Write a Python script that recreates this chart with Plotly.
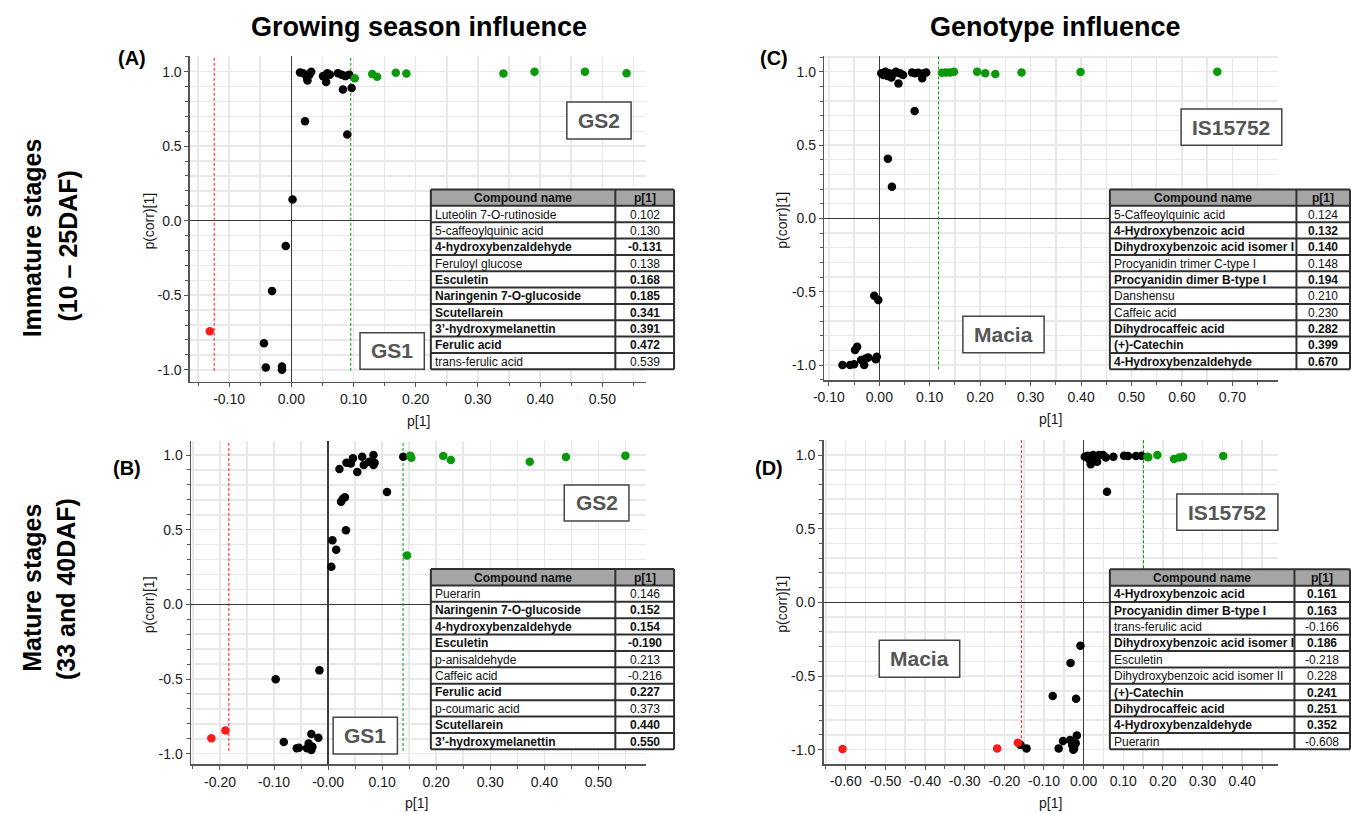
import plotly.graph_objects as go

W, H = 1351, 813
FONT = "Liberation Sans, Arial, sans-serif"
GRID = "#e8e8e8"
AXC = "#555555"
GREEN = "#0a990a"
RED = "#ff1a1a"

# ---------------- data ----------------
# Panel A (growing season, immature)
a_blk_x = [0.014, 0.019, 0.025, 0.026, 0.029, 0.032, 0.051, 0.056, 0.058, 0.062, 0.075, 0.081, 0.087,
           0.093, 0.083, 0.097, 0.022, 0.090, 0.002, -0.009, -0.031, -0.044, -0.041, -0.015, -0.015]
a_blk_y = [0.995, 0.99, 0.96, 0.94, 0.98, 1.0, 0.97, 0.93, 0.99, 0.98, 0.99, 0.98, 0.97,
           0.98, 0.88, 0.89, 0.667, 0.578, 0.142, -0.169, -0.472, -0.822, -0.984, -0.978, -1.0]
a_grn_x = [0.102, 0.130, 0.138, 0.168, 0.185, 0.341, 0.391, 0.472, 0.539]
a_grn_y = [0.955, 0.984, 0.966, 0.993, 0.987, 0.987, 1.0, 1.0, 0.989]
a_red_x = [-0.131]
a_red_y = [-0.742]
a_thr = [-0.124, 0.0956]
a_names = ["Luteolin 7-O-rutinoside", "5-caffeoylquinic acid", "4-hydroxybenzaldehyde", "Feruloyl glucose",
           "Esculetin", "Naringenin 7-O-glucoside", "Scutellarein", "3’-hydroxymelanettin", "Ferulic acid",
           "trans-ferulic acid"]
a_vals = [0.102, 0.130, -0.131, 0.138, 0.168, 0.185, 0.341, 0.391, 0.472, 0.539]
a_bold = [0, 0, 1, 0, 1, 1, 1, 1, 1, 0]

# Panel B (growing season, mature)
b_blk_x = [0.021, 0.034, 0.042, 0.046, 0.054, 0.063, 0.066, 0.076, 0.084, 0.084, 0.086, 0.139, 0.109,
           0.024, 0.027, 0.031, 0.033, 0.008, 0.015, 0.006, -0.016, -0.097, -0.082, -0.058, -0.054,
           -0.039, -0.036, -0.031, -0.031, -0.029, -0.018]
b_blk_y = [0.906, 0.949, 0.944, 0.978, 0.886, 0.989, 0.933, 0.955, 1.0, 0.933, 0.949, 0.989, 0.752,
           0.688, 0.705, 0.717, 0.496, 0.429, 0.366, 0.252, -0.442, -0.502, -0.922, -0.964, -0.960,
           -0.964, -0.931, -0.868, -0.975, -0.953, -0.893]
b_grn_x = [0.146, 0.152, 0.154, 0.213, 0.227, 0.373, 0.440, 0.550]
b_grn_y = [0.328, 0.996, 0.982, 0.993, 0.967, 0.955, 0.987, 0.996]
b_red_x = [-0.216, -0.190]
b_red_y = [-0.897, -0.844]
b_thr = [-0.1836, 0.1387]
b_names = ["Puerarin", "Naringenin 7-O-glucoside", "4-hydroxybenzaldehyde", "Esculetin", "p-anisaldehyde",
           "Caffeic acid", "Ferulic acid", "p-coumaric acid", "Scutellarein", "3’-hydroxymelanettin"]
b_vals = [0.146, 0.152, 0.154, -0.190, 0.213, -0.216, 0.227, 0.373, 0.440, 0.550]
b_bold = [0, 1, 1, 1, 0, 0, 1, 0, 1, 1]

# Panel C (genotype, immature)
c_blk_x = [0.004, 0.008, 0.012, 0.016, 0.019, 0.024, 0.029, 0.033, 0.038, 0.041, 0.047, 0.065, 0.071,
           0.077, 0.085, 0.088, 0.093, 0.070, 0.017, 0.025, -0.010, -0.002, -0.073, -0.058, -0.050,
           -0.048, -0.044, -0.036, -0.030, -0.027, -0.022, -0.007, -0.005]
c_blk_y = [0.989, 0.977, 1.0, 0.970, 0.989, 0.961, 0.989, 1.0, 0.920, 0.989, 0.977, 0.995, 0.989,
           0.993, 0.955, 0.989, 0.995, 0.732, 0.407, 0.216, -0.527, -0.557, -1.0, -1.0, -0.995,
           -0.898, -0.875, -0.966, -1.0, -0.955, -0.948, -0.961, -0.943]
c_grn_x = [0.124, 0.132, 0.140, 0.148, 0.194, 0.210, 0.230, 0.282, 0.399, 0.670]
c_grn_y = [0.993, 0.995, 0.995, 1.0, 1.0, 0.989, 0.984, 0.995, 0.998, 1.0]
c_red_x = []
c_red_y = []
c_thr = [None, 0.1173]
c_names = ["5-Caffeoylquinic acid", "4-Hydroxybenzoic acid", "Dihydroxybenzoic acid isomer I",
           "Procyanidin trimer C-type I", "Procyanidin dimer B-type I", "Danshensu", "Caffeic acid",
           "Dihydrocaffeic acid", "(+)-Catechin", "4-Hydroxybenzaldehyde"]
c_vals = [0.124, 0.132, 0.140, 0.148, 0.194, 0.210, 0.230, 0.282, 0.399, 0.670]
c_bold = [0, 1, 1, 0, 1, 0, 0, 1, 1, 1]

# Panel D (genotype, mature)
d_blk_x = [0.003, 0.010, 0.015, 0.018, 0.024, 0.029, 0.034, 0.039, 0.049, 0.056, 0.075, 0.102, 0.112,
           0.132, 0.146, 0.059, -0.008, -0.033, -0.078, -0.019, -0.017, -0.052, -0.063, -0.034,
           -0.029, -0.024, -0.020, -0.026, -0.159, -0.144]
d_blk_y = [0.989, 0.995, 0.966, 0.937, 1.0, 0.977, 0.955, 1.0, 1.0, 0.984, 0.989, 0.995, 0.993,
           0.993, 0.995, 0.751, -0.294, -0.412, -0.636, -0.654, -0.903, -0.941, -0.991, -0.934,
           -0.968, -0.991, -0.957, -1.0, -0.968, -0.991]
d_grn_x = [0.161, 0.163, 0.186, 0.228, 0.241, 0.251, 0.352]
d_grn_y = [0.989, 0.985, 1.0, 0.973, 0.984, 0.989, 0.993]
d_red_x = [-0.608, -0.218, -0.166]
d_red_y = [-0.995, -0.991, -0.952]
d_thr = [-0.157, 0.151]
d_names = ["4-Hydroxybenzoic acid", "Procyanidin dimer B-type I", "trans-ferulic acid",
           "Dihydroxybenzoic acid isomer I", "Esculetin", "Dihydroxybenzoic acid isomer II", "(+)-Catechin",
           "Dihydrocaffeic acid", "4-Hydroxybenzaldehyde", "Puerarin"]
d_vals = [0.161, 0.163, -0.166, 0.186, -0.218, 0.228, 0.241, 0.251, 0.352, -0.608]
d_bold = [1, 1, 0, 1, 0, 0, 1, 1, 1, 0]

# tick labels
a_xticks = [-0.10, 0.00, 0.10, 0.20, 0.30, 0.40, 0.50]
a_xlabels = ["-0.10", "0.00", "0.10", "0.20", "0.30", "0.40", "0.50"]
b_xticks = [-0.20, -0.10, 0.00, 0.10, 0.20, 0.30, 0.40, 0.50]
b_xlabels = ["-0.20", "-0.10", "-0.00", "0.10", "0.20", "0.30", "0.40", "0.50"]
c_xticks = [-0.10, 0.00, 0.10, 0.20, 0.30, 0.40, 0.50, 0.60, 0.70]
c_xlabels = ["-0.10", "0.00", "0.10", "0.20", "0.30", "0.40", "0.50", "0.60", "0.70"]
d_xticks = [-0.60, -0.50, -0.40, -0.30, -0.20, -0.10, 0.00, 0.10, 0.20, 0.30, 0.40]
d_xlabels = ["-0.60", "-0.50", "-0.40", "-0.30", "-0.20", "-0.10", "0.00", "0.10", "0.20", "0.30", "0.40"]
yticks = [-1.0, -0.5, 0.0, 0.5, 1.0]
ylabels = ["-1.0", "-0.5", "0.0", "0.5", "1.0"]


def PX(x):
    return x / W


def PY(y):
    return 1 - y / H


def note(text, x, y, size, color="#111", xanchor="center", angle=0):
    return dict(text=text, x=PX(x), y=PY(y), xref="paper", yref="paper", showarrow=False,
                xanchor=xanchor, yanchor="middle", textangle=angle,
                font=dict(family=FONT, size=size, color=color))


fig = go.Figure()
shapes = []
annots = []

panels = [
    dict(k="", blk=(a_blk_x, a_blk_y), grn=(a_grn_x, a_grn_y), red=(a_red_x, a_red_y), thr=a_thr,
         thr_bot=[-1.007, -1.007], xr=[-0.163, 0.571], yr=[-1.08, 1.105], xd=(180.4, 640.7), yd=(56, 381.7),
         xt=a_xticks, xl=a_xlabels, ttl=(138.9, 410.4),
         tab=(423.3, 609.3, 668.5, 189.5, 369.3, a_names, a_vals, a_bold),
         boxes=[("GS2", 560.4, 625.2, 102, 139), ("GS1", 351.9, 416.7, 332.7, 369.3)]),
    dict(k="2", blk=(b_blk_x, b_blk_y), grn=(b_grn_x, b_grn_y), red=(b_red_x, b_red_y), thr=b_thr,
         thr_bot=[-0.982, -0.982], xr=[-0.2536, 0.589], yr=[-1.071, 1.096], xd=(181.5, 640.7), yd=(440.7, 764.3),
         xt=b_xticks, xl=b_xlabels, ttl=(138.9, 409),
         tab=(423.3, 609.3, 668.5, 569, 749.3, b_names, b_vals, b_bold),
         boxes=[("GS2", 557.8, 623.0, 485, 521), ("GS1", 324.8, 389.6, 717.3, 754)]),
    dict(k="3", blk=(c_blk_x, c_blk_y), grn=(c_grn_x, c_grn_y), red=(c_red_x, c_red_y), thr=c_thr,
         thr_bot=[-1.03, -1.03], xr=[-0.109, 0.791], yr=[-1.102, 1.107], xd=(820.0, 1277.7), yd=(56, 380),
         xt=c_xticks, xl=c_xlabels, ttl=(777, 1048),
         tab=(1107.9, 1296.0, 1350, 189.5, 369.3, c_names, c_vals, c_bold),
         boxes=[("IS15752", 1179.7, 1281.2, 109, 145.3), ("Macia", 959.7, 1041.6, 316.3, 352.7)]),
    dict(k="4", blk=(d_blk_x, d_blk_y), grn=(d_grn_x, d_grn_y), red=(d_red_x, d_red_y), thr=d_thr,
         thr_bot=[-0.99, -0.99], xr=[-0.656, 0.491], yr=[-1.097, 1.102], xd=(819.2, 1277.7), yd=(440, 764),
         xt=d_xticks, xl=d_xlabels, ttl=(777, 1048),
         tab=(1107.9, 1294.0, 1350, 569.3, 749.3, d_names, d_vals, d_bold),
         boxes=[("IS15752", 1175.4, 1277.3, 494, 530.3), ("Macia", 875.4, 956.5, 640.3, 677.3)]),
]

layout_axes = {}
for p in panels:
    k = p["k"]
    xa, ya = "x" + k, "y" + k
    for (xs, ys), col in [(p["blk"], "#000000"), (p["grn"], GREEN), (p["red"], RED)]:
        if len(xs):
            fig.add_trace(go.Scatter(x=xs, y=ys, mode="markers", xaxis=xa, yaxis=ya,
                                     marker=dict(color=col, size=8.5, line=dict(width=0)),
                                     showlegend=False, hoverinfo="skip"))
    common = dict(showgrid=True, gridcolor=GRID, gridwidth=1.5,
                  ticks="outside", ticklen=4, tickcolor=AXC, showline=True, linecolor=AXC, linewidth=1.5,
                  zeroline=True, zerolinecolor="#3a3a3a", zerolinewidth=1.3,
                  tickfont=dict(family=FONT, size=14, color="#1a1a1a"), fixedrange=True)
    layout_axes["xaxis" + k] = dict(
        domain=[PX(p["xd"][0]), PX(p["xd"][1])], range=p["xr"], anchor=ya,
        tickmode="array", tickvals=p["xt"], ticktext=p["xl"],
        minor=dict(tickmode="linear", tick0=0, dtick=0.05, showgrid=True, gridcolor=GRID, gridwidth=1.5,
                   ticks="outside", ticklen=3, tickcolor=AXC), **common)
    layout_axes["yaxis" + k] = dict(
        domain=[PY(p["yd"][1]), PY(p["yd"][0])], range=p["yr"], anchor=xa,
        tickmode="array", tickvals=yticks, ticktext=ylabels,
        minor=dict(tickmode="linear", tick0=0, dtick=0.1, showgrid=True, gridcolor=GRID, gridwidth=1.5,
                   ticks="outside", ticklen=3, tickcolor=AXC), **common)

    # threshold dashed lines
    for tv, col, yb in zip(p["thr"], [RED, GREEN], p["thr_bot"]):
        if tv is None:
            continue
        shapes.append(dict(type="line", xref=xa, yref=ya, x0=tv, x1=tv, y0=yb, y1=p["yr"][1],
                           line=dict(color=col, width=1, dash="3px,2px"), layer="between"))

    # axis titles
    annots.append(note("p[1]", p["ttl"][1], p["yd"][1] + 39, 14, "#1a1a1a"))
    annots.append(note("p(corr)[1]", p["ttl"][0], (p["yd"][0] + p["yd"][1]) / 2 + 2, 14, "#1a1a1a",
                       angle=-90))

    # table
    x0, xs_, x1, y0, y1, names, vals, bold = p["tab"]
    nrow = len(names) + 1
    rh = (y1 - y0) / nrow
    shapes.append(dict(type="rect", xref="paper", yref="paper", x0=PX(x0), x1=PX(x1), y0=PY(y1), y1=PY(y0),
                       fillcolor="white", line=dict(width=0), layer="above"))
    shapes.append(dict(type="rect", xref="paper", yref="paper", x0=PX(x0), x1=PX(x1), y0=PY(y0 + rh),
                       y1=PY(y0), fillcolor="#a5a5a5", line=dict(width=0), layer="above"))
    for i in range(nrow + 1):
        yy = y0 + i * rh
        shapes.append(dict(type="line", xref="paper", yref="paper", x0=PX(x0), x1=PX(x1), y0=PY(yy), y1=PY(yy),
                           line=dict(color="#303030", width=2), layer="above"))
    for xx in (x0, xs_, x1):
        shapes.append(dict(type="line", xref="paper", yref="paper", x0=PX(xx), x1=PX(xx), y0=PY(y1), y1=PY(y0),
                           line=dict(color="#303030", width=2), layer="above"))
    annots.append(note("<b>Compound name</b>", (x0 + xs_) / 2, y0 + rh / 2 + 0.5, 12))
    annots.append(note("<b>p[1]</b>", (xs_ + x1) / 2, y0 + rh / 2 + 0.5, 12))
    for i, (nm, v, b) in enumerate(zip(names, vals, bold)):
        yc = y0 + (i + 1.5) * rh + 0.5
        t_n = f"<b>{nm}</b>" if b else nm
        t_v = f"<b>{v:.3f}</b>" if b else f"{v:.3f}"
        annots.append(note(t_n, x0 + 2, yc, 12, xanchor="left"))
        annots.append(note(t_v, (xs_ + x1) / 2, yc, 12))

    # label boxes
    for txt, bx0, bx1, by0, by1 in p["boxes"]:
        shapes.append(dict(type="rect", xref="paper", yref="paper", x0=PX(bx0), x1=PX(bx1), y0=PY(by1),
                           y1=PY(by0), fillcolor="white", line=dict(color="#444", width=1.5), layer="above"))
        annots.append(note(f"<b>{txt}</b>", (bx0 + bx1) / 2, (by0 + by1) / 2, 21, "#555555"))

# column titles
annots.append(note("<b>Growing season influence</b>", 411, 27, 27, "#000"))
annots.append(note("<b>Genotype influence</b>", 1053, 27, 27, "#000"))
# row titles (each line placed separately)
annots.append(note("<b>Immature stages</b>", 22, 237.5, 25, "#000", angle=-90))
annots.append(note("<b>(10 – 25DAF)</b>", 57, 246, 25, "#000", angle=-90))
annots.append(note("<b>Mature stages</b>", 21, 588, 25, "#000", angle=-90))
annots.append(note("<b>(33 and 40DAF)</b>", 55.5, 589, 25, "#000", angle=-90))
# panel letters
for lt, lx, ly in [("(A)", 122, 58), ("(B)", 117, 467.5), ("(C)", 769, 58), ("(D)", 764.4, 467.5)]:
    annots.append(note(f"<b>{lt}</b>", lx, ly, 20, "#000"))

fig.update_layout(
    width=W, height=H, autosize=False,
    margin=dict(l=0, r=0, t=0, b=0, pad=0),
    paper_bgcolor="white", plot_bgcolor="white",
    font=dict(family=FONT),
    shapes=shapes, annotations=annots, showlegend=False,
    **layout_axes,
)

fig.write_html("out.html", config=dict(displayModeBar=False, staticPlot=True),
               post_script="document.body.style.margin='0';")
